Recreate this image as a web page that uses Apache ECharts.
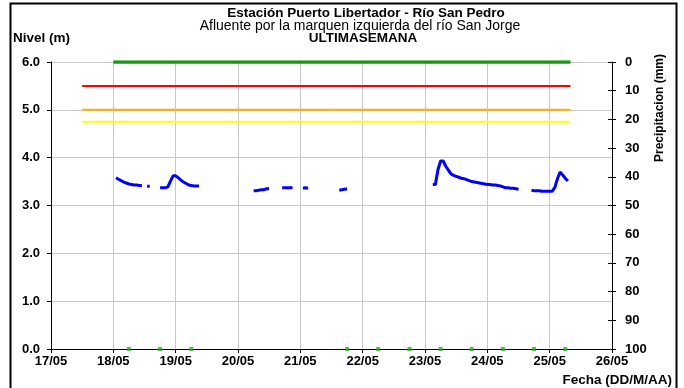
<!DOCTYPE html>
<html>
<head>
<meta charset="utf-8">
<script src="https://cdn.jsdelivr.net/npm/echarts@6/dist/echarts.min.js"></script>
<style>
  html, body { margin: 0; padding: 0; background: #ffffff; }
  #chart { width: 684px; height: 388px; }
</style>
</head>
<body>
<div id="chart"></div>
<script>
// Axis ticks
const dateLabels = ['17/05', '18/05', '19/05', '20/05', '21/05', '22/05', '23/05', '24/05', '25/05', '26/05'];
const levelTicks = [0, 1, 2, 3, 4, 5, 6];
const rainTicks = [0, 10, 20, 30, 40, 50, 60, 70, 80, 90, 100];

// Water level (m); null marks a gap in the record
const levelTimes = [
  '18/05 01:00', '18/05 02:00', '18/05 03:00', '18/05 04:00', '18/05 05:00', '18/05 06:00',
  '18/05 07:00', '18/05 08:00', '18/05 09:00', '18/05 10:00', '18/05 11:00', '18/05 12:00',
  '18/05 13:00', '18/05 14:00', '18/05 16:00',
  '18/05 18:00', '18/05 19:00', '18/05 20:00', '18/05 21:00', '18/05 22:00', '18/05 23:00',
  '19/05 00:00', '19/05 01:00', '19/05 02:00', '19/05 03:00', '19/05 04:00', '19/05 05:00',
  '19/05 06:00', '19/05 07:00', '19/05 08:00', '19/05 09:00', '19/05 12:00',
  '20/05 06:00', '20/05 07:00', '20/05 08:00', '20/05 09:00', '20/05 10:00', '20/05 11:00',
  '20/05 12:00', '20/05 14:00',
  '20/05 17:00', '20/05 18:00', '20/05 19:00', '20/05 20:00', '20/05 21:00', '20/05 23:00',
  '21/05 01:00', '21/05 02:00', '21/05 03:00', '21/05 09:00',
  '21/05 15:00', '21/05 16:00', '21/05 17:00', '21/05 18:00', '22/05 00:00',
  '23/05 03:00', '23/05 04:00', '23/05 05:00', '23/05 06:00', '23/05 07:00', '23/05 08:00',
  '23/05 09:00', '23/05 10:00', '23/05 11:00', '23/05 12:00', '23/05 13:00', '23/05 14:00',
  '23/05 15:00', '23/05 16:00', '23/05 17:00', '23/05 18:00', '23/05 19:00', '23/05 20:00',
  '23/05 21:00', '23/05 22:00', '23/05 23:00', '24/05 00:00', '24/05 01:00', '24/05 02:00',
  '24/05 03:00', '24/05 04:00', '24/05 05:00', '24/05 06:00', '24/05 07:00', '24/05 08:00',
  '24/05 09:00', '24/05 10:00', '24/05 11:00', '24/05 12:00', '24/05 14:00',
  '24/05 17:00', '24/05 18:00', '24/05 19:00', '24/05 20:00', '24/05 21:00', '24/05 22:00',
  '24/05 23:00', '25/05 00:00', '25/05 01:00', '25/05 02:00', '25/05 03:00', '25/05 04:00',
  '25/05 05:00', '25/05 06:00', '25/05 07:00'
];
const levelValues = [
  3.58, 3.55, 3.52, 3.49, 3.47, 3.45,
  3.44, 3.43, 3.43, 3.42, 3.42, null,
  3.40, 3.40, null,
  3.37, 3.37, 3.37, 3.39, 3.51, 3.62,
  3.62, 3.58, 3.53, 3.49, 3.46, 3.43,
  3.42, 3.41, 3.41, 3.41, null,
  3.31, 3.31, 3.32, 3.33, 3.33, 3.35,
  3.35, null,
  3.37, 3.37, 3.37, 3.37, 3.37, null,
  3.36, 3.37, 3.36, null,
  3.32, 3.33, 3.34, 3.35, null,
  3.44, 3.44, 3.75, 3.93, 3.93, 3.82,
  3.74, 3.66, 3.63, 3.61, 3.59, 3.57,
  3.56, 3.54, 3.52, 3.50, 3.49, 3.48,
  3.47, 3.46, 3.45, 3.44, 3.44, 3.43,
  3.43, 3.42, 3.41, 3.39, 3.37, 3.37,
  3.36, 3.36, 3.35, 3.34, null,
  3.32, 3.31, 3.31, 3.31, 3.30, 3.30,
  3.30, 3.30, 3.30, 3.38, 3.56, 3.70,
  3.64, 3.57, 3.51
];

// Precipitation (mm), plotted on the inverted right axis
const rainTimes = [
  '18/05 00:00', '18/05 06:00', '18/05 12:00', '18/05 18:00', '19/05 00:00', '19/05 06:00',
  '19/05 12:00', '19/05 18:00', '20/05 00:00', '20/05 06:00', '20/05 12:00', '20/05 18:00',
  '21/05 00:00', '21/05 06:00', '21/05 12:00', '21/05 18:00', '22/05 00:00', '22/05 06:00',
  '22/05 12:00', '22/05 18:00', '23/05 00:00', '23/05 06:00', '23/05 12:00', '23/05 18:00',
  '24/05 00:00', '24/05 06:00', '24/05 12:00', '24/05 18:00', '25/05 00:00', '25/05 06:00',
  '25/05 08:00'
];
const rainValues = [
  0, 0, 0, 0, 0, 0,
  0, 0, 0, 0, 0, 0,
  0, 0, 0, 0, 0, 0,
  0, 0, 0, 0, 0, 0,
  0, 0, 0, 0, 0, 0,
  0
];

// Readings logged at zero on the level axis
const zeroTimes = [
  '18/05 06:00', '18/05 18:00', '19/05 06:00', '21/05 18:00', '22/05 06:00', '22/05 18:00',
  '23/05 06:00', '23/05 18:00', '24/05 06:00', '24/05 18:00', '25/05 06:00'
];
const zeroValues = [0, 0, 0, 0, 0, 0, 0, 0, 0, 0, 0];

// Alert thresholds (m)
const thresholdNames = ['Roja', 'Naranja', 'Amarilla'];
const thresholdValues = [5.5, 5.0, 4.75];
const thresholdColors = ['#ff0000', '#ffb000', '#ffff00'];
const thresholdSpan = ['17/05 12:00', '25/05 08:00'];

// 'DD/MM HH:mm' -> days since 17/05 00:00
function toDay(s) {
  const [d, t] = s.split(' ');
  const day = parseInt(d.split('/')[0], 10);
  const [h, m] = t.split(':').map(Number);
  return (day - 17) + h / 24 + m / 1440;
}
const pair = (times, values) => times.map((t, i) => [toDay(t), values[i]]);

const FONT = 'Liberation Sans, Arial, sans-serif';
const boldLabel = { color: '#000', fontFamily: FONT, fontWeight: 'bold', fontSize: 13 };

const series = [];
thresholdValues.forEach((v, i) => {
  series.push({
    name: thresholdNames[i],
    type: 'line',
    xAxisIndex: 0, yAxisIndex: 0,
    data: thresholdSpan.map(t => [toDay(t), v]),
    showSymbol: false,
    lineStyle: { color: thresholdColors[i], width: 2 },
    z: 3
  });
});
series.push({
  name: 'Precipitacion',
  type: 'line',
  xAxisIndex: 0, yAxisIndex: 1,
  data: pair(rainTimes, rainValues),
  showSymbol: false,
  lineStyle: { color: '#129a12', width: 3.5 },
  z: 4
});
series.push({
  name: 'Nivel',
  type: 'line',
  xAxisIndex: 0, yAxisIndex: 0,
  data: pair(levelTimes, levelValues),
  connectNulls: false,
  showSymbol: false,
  lineStyle: { color: '#0000ff', width: 3 },
  z: 5
});
series.push({
  name: 'Registro',
  type: 'scatter',
  xAxisIndex: 0, yAxisIndex: 0,
  data: pair(zeroTimes, zeroValues),
  symbol: 'rect',
  symbolSize: 4,
  itemStyle: { color: '#22b022' },
  z: 6
});

const chart = echarts.init(document.getElementById('chart'), null, { renderer: 'canvas' });
chart.setOption({
  animation: false,
  backgroundColor: '#ffffff',
  grid: { left: 51, right: 72, top: 62, bottom: 39, containLabel: false },
  xAxis: {
    type: 'value',
    min: 0, max: dateLabels.length - 1, interval: 1,
    axisLine: { show: true, onZero: false, lineStyle: { color: '#000', width: 1 } },
    axisTick: { show: true, inside: false, length: 4, lineStyle: { color: '#000' } },
    axisLabel: Object.assign({ margin: 6, formatter: v => dateLabels[Math.round(v)] || '' }, boldLabel),
    splitLine: { show: true, lineStyle: { color: '#c8c8c8', width: 1 } }
  },
  yAxis: [
    {
      type: 'value',
      min: levelTicks[0], max: levelTicks[levelTicks.length - 1], interval: 1,
      position: 'left',
      axisLine: { show: true, lineStyle: { color: '#000', width: 1 } },
      axisTick: { show: true, inside: false, length: 4, lineStyle: { color: '#000' } },
      axisLabel: Object.assign({ margin: 11, formatter: v => v.toFixed(1) }, boldLabel),
      splitLine: { show: true, lineStyle: { color: '#c8c8c8', width: 1 } }
    },
    {
      type: 'value',
      min: rainTicks[0], max: rainTicks[rainTicks.length - 1], interval: 10,
      inverse: true,
      position: 'right',
      axisLine: { show: true, lineStyle: { color: '#000', width: 1 } },
      axisTick: { show: true, inside: false, length: 4, lineStyle: { color: '#000' } },
      axisLabel: Object.assign({ margin: 13, align: 'left' }, boldLabel),
      splitLine: { show: false }
    },
    {
      // inner half of the crossing ticks on the precipitation axis
      type: 'value',
      min: rainTicks[0], max: rainTicks[rainTicks.length - 1], interval: 10,
      inverse: true,
      position: 'right',
      axisLine: { show: false },
      axisTick: { show: true, inside: true, length: 4, lineStyle: { color: '#000' } },
      axisLabel: { show: false },
      splitLine: { show: false }
    }
  ],
  series: series,
  graphic: [
    {
      type: 'rect', silent: true,
      shape: { x: 10.5, y: 3.5, width: 666, height: 400 },
      style: { fill: 'none', stroke: '#000', lineWidth: 2 }
    },
    {
      type: 'text', x: 366, y: 13,
      style: { text: 'Estación Puerto Libertador - Río San Pedro', fill: '#000',
               font: 'bold 13.5px ' + FONT, textAlign: 'center', textVerticalAlign: 'middle' }
    },
    {
      type: 'text', x: 360, y: 26,
      style: { text: 'Afluente por la marquen izquierda del río San Jorge', fill: '#000',
               font: '14px ' + FONT, textAlign: 'center', textVerticalAlign: 'middle' }
    },
    {
      type: 'text', x: 363, y: 38,
      style: { text: 'ULTIMASEMANA', fill: '#000', font: 'bold 13.5px ' + FONT,
               textAlign: 'center', textVerticalAlign: 'middle' }
    },
    {
      type: 'text', x: 13, y: 38,
      style: { text: 'Nivel (m)', fill: '#000', font: 'bold 13.5px ' + FONT,
               textAlign: 'left', textVerticalAlign: 'middle' }
    },
    {
      type: 'text', x: 672, y: 380,
      style: { text: 'Fecha (DD/M/AA)', fill: '#000', font: 'bold 13.5px ' + FONT,
               textAlign: 'right', textVerticalAlign: 'middle' }
    },
    {
      type: 'text', x: 660, y: 108, rotation: Math.PI / 2,
      style: { text: 'Precipitacion (mm)', fill: '#000', font: 'bold 12px ' + FONT,
               textAlign: 'center', textVerticalAlign: 'middle' }
    }
  ]
});
</script>
</body>
</html>
